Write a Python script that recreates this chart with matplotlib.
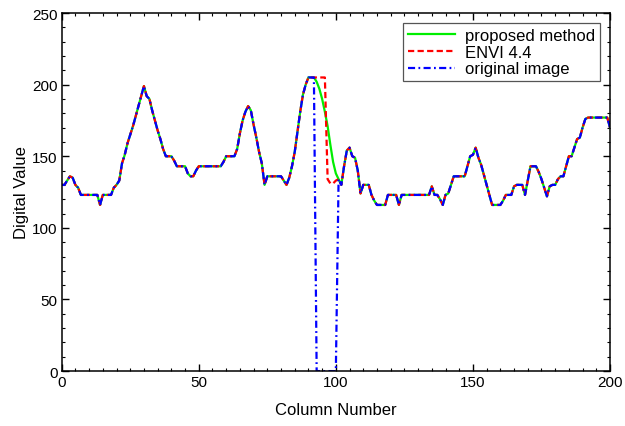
import numpy as np
import matplotlib
matplotlib.use("Agg")
import matplotlib.pyplot as plt
from matplotlib.ticker import MultipleLocator

plt.rcParams['font.family'] = ['Liberation Sans', 'DejaVu Sans']

# column index along the image row
columns = np.arange(201)

# digital values of the original image row (0 = missing pixels)
original = [
    130, 130, 133, 136, 135, 130, 128, 123, 123, 123,
    123, 123, 123, 123, 116, 123, 123, 123, 123, 128,
    130, 133, 145, 151, 159, 165, 171, 178, 185, 192,
    199, 192, 190, 182, 175, 168, 162, 155, 150, 150,
    150, 147, 143, 143, 143, 143, 138, 136, 136, 140,
    143, 143, 143, 143, 143, 143, 143, 143, 143, 146,
    150, 150, 150, 150, 155, 166, 175, 181, 185, 182,
    172, 163, 153, 145, 130, 136, 136, 136, 136, 136,
    136, 133, 130, 135, 143, 153, 167, 181, 193, 200,
    205, 205, 205, 0, 0, 0, 0, 0, 0, 0,
    0, 134, 130, 143, 154, 156, 150, 149, 140, 124,
    130, 130, 130, 123, 119, 116, 116, 116, 116, 123,
    123, 123, 123, 116, 123, 123, 123, 123, 123, 123,
    123, 123, 123, 123, 123, 129, 123, 123, 120, 116,
    123, 124, 130, 136, 136, 136, 136, 136, 143, 150,
    151, 156, 149, 144, 137, 130, 123, 116, 116, 116,
    116, 119, 123, 123, 123, 129, 130, 130, 130, 123,
    133, 143, 143, 143, 139, 134, 128, 122, 129, 130,
    130, 134, 136, 136, 143, 150, 150, 156, 162, 163,
    170, 176, 177, 177, 177, 177, 177, 177, 177, 177,
    170,
]

# filled values for the gap, columns 93..100
gap_proposed = [202, 197, 190, 181, 171, 158, 146, 138]
gap_envi = [205, 205, 205, 205, 134, 131, 131, 133]

proposed = original[:93] + gap_proposed + original[101:]
envi = original[:93] + gap_envi + original[101:]

fig = plt.figure(figsize=(6.25, 4.27), dpi=100)
ax = fig.add_axes([0.0987, 0.1286, 0.8773, 0.8386])

ax.plot(columns, proposed, color='#00ee00', lw=1.6, label='proposed method')
ax.plot(columns, envi, color='#ff0000', lw=1.6, ls=(0, (2.8, 1.5)), label='ENVI 4.4')
ax.plot(columns, original, color='#0000ff', lw=1.6, ls=(0, (3.2, 1.5, 0.8, 1.5)), label='original image')

ax.set_xlim(0, 200)
ax.set_ylim(0, 250)
ax.xaxis.set_major_locator(MultipleLocator(50))
ax.xaxis.set_minor_locator(MultipleLocator(5))
ax.yaxis.set_major_locator(MultipleLocator(50))
ax.yaxis.set_minor_locator(MultipleLocator(10))
ax.tick_params(which='both', direction='in', top=True, right=True, labelsize=11, pad=3)
ax.tick_params(which='major', length=5, width=1)
ax.tick_params(which='minor', length=2.5, width=0.8)
for s in ax.spines.values():
    s.set_linewidth(1.1)

ax.set_xlabel('Column Number', fontsize=12, labelpad=9)
ax.set_ylabel('Digital Value', fontsize=12, labelpad=2)

leg = ax.legend(loc='upper right', fontsize=12, fancybox=False, edgecolor='#555555',
                framealpha=1, handlelength=2.8, labelspacing=0.1, borderaxespad=0.6,
                borderpad=0.3, handletextpad=0.6)
leg.get_frame().set_linewidth(0.9)

fig.savefig('out.png', dpi=100)
